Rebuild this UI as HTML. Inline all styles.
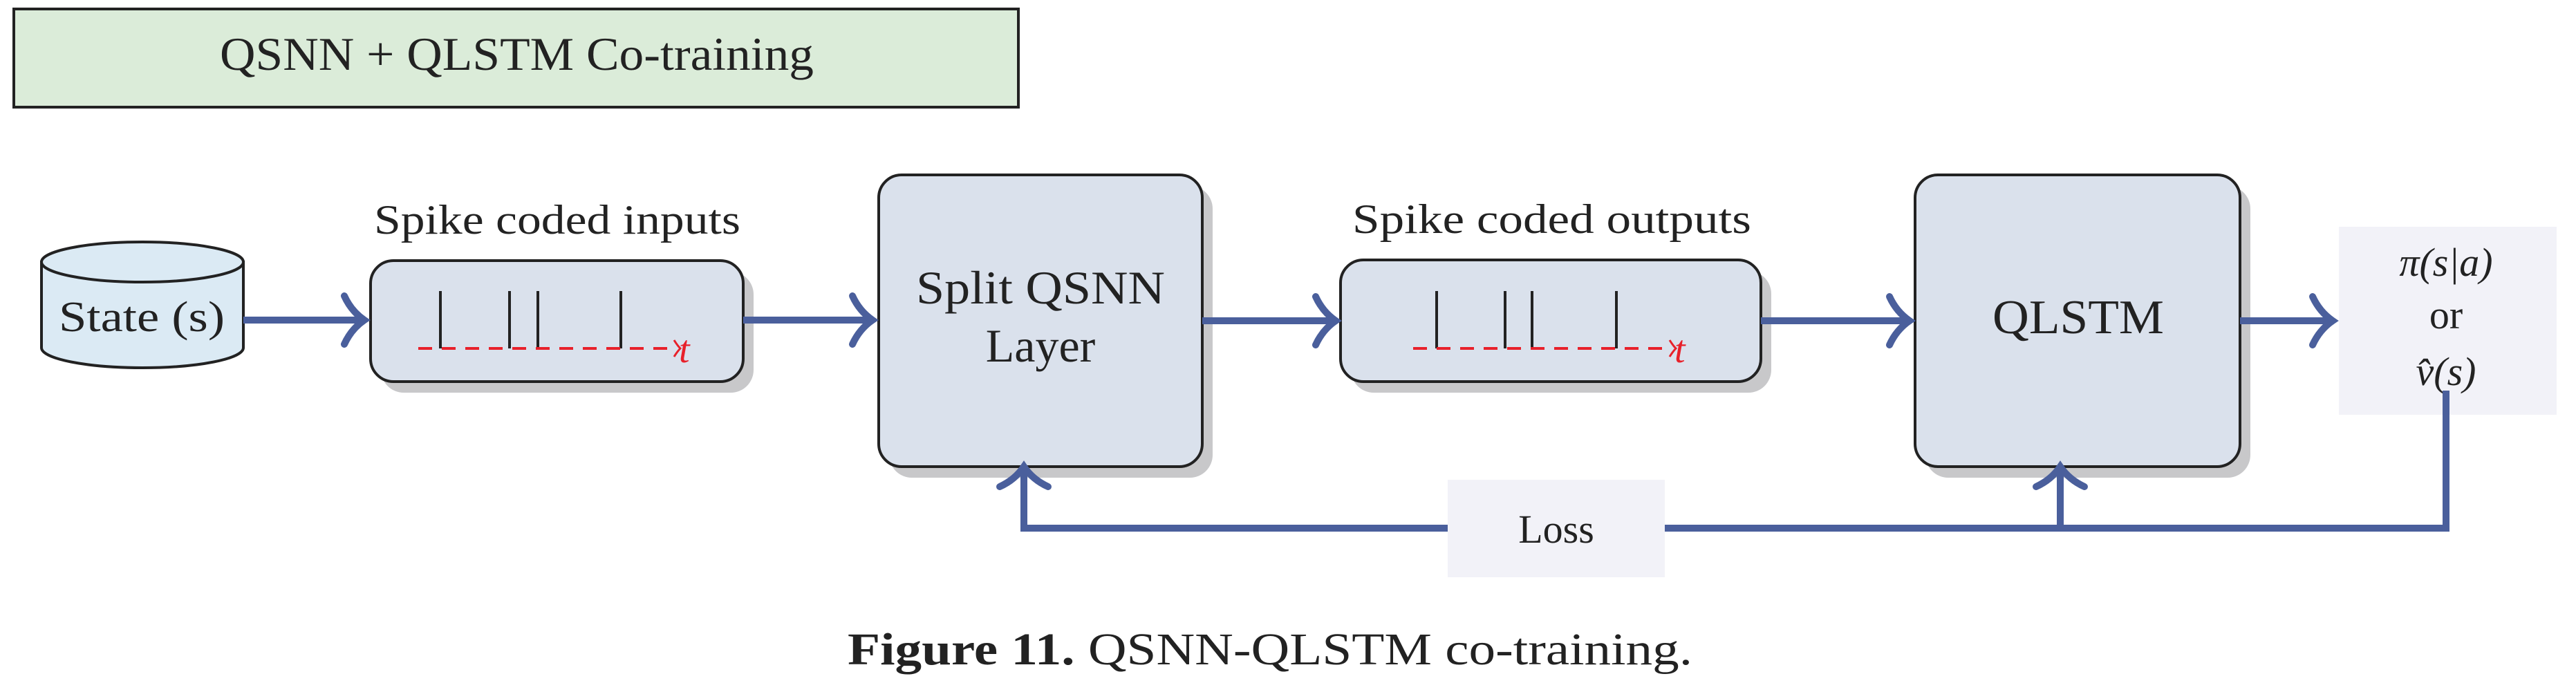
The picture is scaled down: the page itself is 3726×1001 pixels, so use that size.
<!DOCTYPE html>
<html><head><meta charset="utf-8"><style>
html,body{margin:0;padding:0;background:#fff;}
svg{display:block;}
text{font-family:"Liberation Serif",serif;fill:#222;}
</style></head><body>
<svg width="3726" height="1001" viewBox="0 0 3726 1001" xmlns="http://www.w3.org/2000/svg">
<!-- Title -->
<rect x="20" y="13" width="1453" height="142" fill="#dbecd9" stroke="#222" stroke-width="4"/>
<text x="318" y="101" font-size="68" textLength="859" lengthAdjust="spacingAndGlyphs">QSNN + QLSTM Co-training</text>

<!-- Cylinder -->
<path d="M60,379 L60,503 A146,29 0 0 0 352,503 L352,379 Z" fill="#dbeaf4" stroke="#222" stroke-width="4"/>
<ellipse cx="206" cy="379" rx="146" ry="29" fill="#dbeaf4" stroke="#222" stroke-width="4"/>
<text x="85" y="479" font-size="62" textLength="240" lengthAdjust="spacingAndGlyphs">State (s)</text>

<!-- shadows -->
<rect x="551" y="393" width="539" height="175" rx="33" fill="#c8c8ca"/>
<rect x="1286" y="269" width="468" height="422" rx="33" fill="#c8c8ca"/>
<rect x="1954" y="392" width="608" height="176" rx="33" fill="#c8c8ca"/>
<rect x="2785" y="269" width="470" height="422" rx="33" fill="#c8c8ca"/>

<!-- Input box -->
<rect x="536" y="377" width="539" height="175" rx="33" fill="#dae1ec" stroke="#222" stroke-width="4"/>
<text x="541" y="338" font-size="60" textLength="530" lengthAdjust="spacingAndGlyphs">Spike coded inputs</text>
<g stroke="#222" stroke-width="4">
<line x1="637" y1="421" x2="637" y2="504"/><line x1="737" y1="421" x2="737" y2="504"/>
<line x1="778" y1="421" x2="778" y2="504"/><line x1="898" y1="421" x2="898" y2="504"/>
</g>
<line x1="605" y1="504" x2="972" y2="504" stroke="#e8202a" stroke-width="4" stroke-dasharray="20,14"/>
<path d="M975,492 Q980,500 984,504 Q980,508 975,516" fill="none" stroke="#e8202a" stroke-width="3"/>
<text x="982" y="524" font-size="56" font-style="italic" style="fill:#e8202a">t</text>

<!-- Split QSNN -->
<rect x="1271" y="253" width="468" height="422" rx="33" fill="#dae1ec" stroke="#222" stroke-width="4"/>
<text x="1325" y="439" font-size="68" textLength="360" lengthAdjust="spacingAndGlyphs">Split QSNN</text>
<text x="1505" y="523" font-size="68" text-anchor="middle">Layer</text>

<!-- Output box -->
<rect x="1939" y="376" width="608" height="176" rx="33" fill="#dae1ec" stroke="#222" stroke-width="4"/>
<text x="1956" y="337" font-size="60" textLength="577" lengthAdjust="spacingAndGlyphs">Spike coded outputs</text>
<g stroke="#222" stroke-width="4">
<line x1="2078" y1="421" x2="2078" y2="504"/><line x1="2177" y1="421" x2="2177" y2="504"/>
<line x1="2216" y1="421" x2="2216" y2="504"/><line x1="2338" y1="421" x2="2338" y2="504"/>
</g>
<line x1="2044" y1="504" x2="2412" y2="504" stroke="#e8202a" stroke-width="4" stroke-dasharray="20,14"/>
<path d="M2415,492 Q2420,500 2424,504 Q2420,508 2415,516" fill="none" stroke="#e8202a" stroke-width="3"/>
<text x="2422" y="524" font-size="56" font-style="italic" style="fill:#e8202a">t</text>

<!-- QLSTM -->
<rect x="2770" y="253" width="470" height="422" rx="33" fill="#dae1ec" stroke="#222" stroke-width="4"/>
<text x="2882" y="482" font-size="70" textLength="248" lengthAdjust="spacingAndGlyphs">QLSTM</text>

<!-- Output result -->
<rect x="3383" y="328" width="315" height="272" fill="#f2f2f8"/>
<text x="3538" y="399" font-size="58" text-anchor="middle" font-style="italic">π(s|a)</text>
<text x="3538" y="475" font-size="58" text-anchor="middle">or</text>
<text x="3538" y="557" font-size="58" text-anchor="middle" font-style="italic">v̂(s)</text>

<!-- Loss -->
<rect x="2094" y="694" width="314" height="141" fill="#f2f2f8"/>
<text x="2251" y="785" font-size="58" text-anchor="middle">Loss</text>

<!-- connectors -->
<g stroke="#4a5f9c" stroke-width="10" fill="none" stroke-linecap="round" stroke-linejoin="miter">
<line x1="352" y1="463" x2="524" y2="463" stroke-linecap="butt"/>
<path d="M498,428 Q508,450 527,463 Q508,476 498,498"/>
<line x1="1075" y1="463" x2="1259" y2="463" stroke-linecap="butt"/>
<path d="M1233,428 Q1243,450 1262,463 Q1243,476 1233,498"/>
<line x1="1739" y1="464" x2="1929" y2="464" stroke-linecap="butt"/>
<path d="M1903,429 Q1913,451 1932,464 Q1913,477 1903,499"/>
<line x1="2547" y1="464" x2="2759" y2="464" stroke-linecap="butt"/>
<path d="M2733,429 Q2743,451 2762,464 Q2743,477 2733,499"/>
<line x1="3240" y1="464" x2="3371" y2="464" stroke-linecap="butt"/>
<path d="M3345,429 Q3355,451 3374,464 Q3355,477 3345,499"/>
<polyline points="3538,565 3538,764 2408,764" stroke-linecap="butt"/>
<polyline points="2094,764 1481,764 1481,678" stroke-linecap="butt"/>
<path d="M1446,704 Q1468,694 1481,675 Q1494,694 1516,704"/>
<line x1="2980" y1="764" x2="2980" y2="678" stroke-linecap="butt"/>
<path d="M2945,704 Q2967,694 2980,675 Q2993,694 3015,704"/>
</g>

<!-- Caption -->
<text x="1226" y="961" font-size="66" textLength="1222" lengthAdjust="spacingAndGlyphs"><tspan font-weight="bold">Figure 11.</tspan> QSNN-QLSTM co-training.</text>
</svg>
</body></html>
